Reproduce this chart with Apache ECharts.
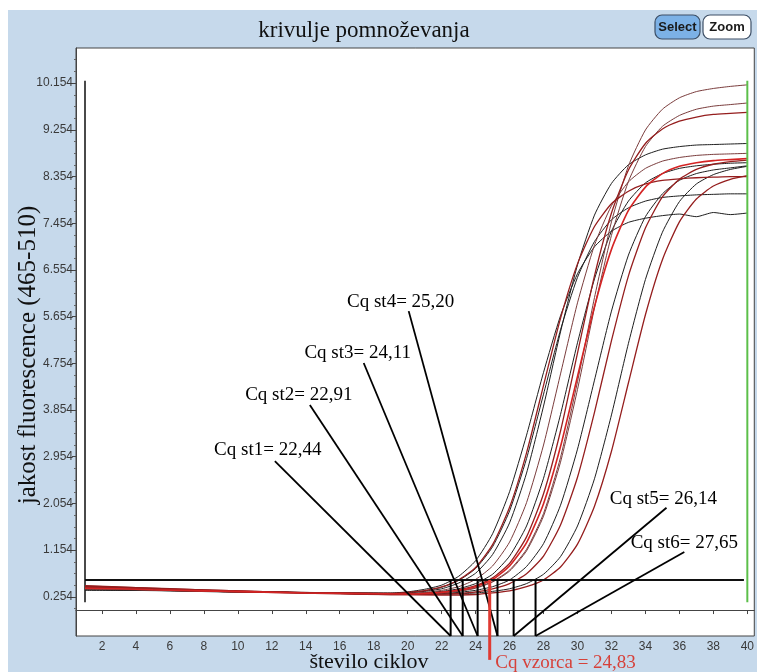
<!DOCTYPE html>
<html><head><meta charset="utf-8">
<script src="https://cdn.jsdelivr.net/npm/echarts@6/dist/echarts.min.js"></script>
<style>html,body{margin:0;padding:0;background:#fff;}#c{width:757px;height:672px;}</style>
</head><body><div id="c"></div>
<script>
// ---------- text ----------
const chartTitle = 'krivulje pomnoževanja';
const xTitle = 'število ciklov';
const yTitle = 'jakost fluorescence (465-510)';

// ---------- ticks ----------
const xTicks = [2,4,6,8,10,12,14,16,18,20,22,24,26,28,30,32,34,36,38,40];
const yTicks = [0.254,1.154,2.054,2.954,3.854,4.754,5.654,6.554,7.454,8.354,9.254,10.154];
const yMinorTicks = [0.029,0.479,0.704,0.929,1.379,1.604,1.829,2.279,2.504,2.729,3.179,3.404,3.629,
  4.079,4.304,4.529,4.979,5.204,5.429,5.879,6.104,6.329,6.779,7.004,7.229,7.679,7.904,8.129,
  8.579,8.804,9.029,9.479,9.704,9.929,10.379,10.604];

// ---------- data ----------
const threshold = 0.58;
const cursorStart = [1, 0.15];
const cursorEnd = [1, 10.2];
const endCycle = [40, 0.15];
const endCycleTop = [40, 10.2];
const thresholdFrom = 1;
const thresholdTo = 39.8;

const curve1 = [[1,0.40],[3,0.39],[5,0.38],[8,0.36],[11,0.35],[14,0.34],[17,0.33],[19,0.33],[20,0.35],[21,0.40],[22,0.48],[23,0.65],[24,0.95],[25,1.47],[26,2.28],[27,3.37],[28,4.58],[29,5.67],[30,6.48],[31,7.00],[32,7.30],[33,7.47],[34,7.55],[35,7.60],[36,7.63],[37,7.58],[38,7.66],[39,7.62],[40,7.65]];
const curve2 = [[1,0.46],[3,0.44],[6,0.41],[9,0.38],[12,0.35],[15,0.33],[18,0.32],[19,0.32],[20,0.34],[21,0.375],[22,0.445],[23,0.58],[24,0.82],[25,1.26],[26,1.98],[27,3.03],[28,4.33],[29,5.62],[30,6.67],[31,7.39],[32,7.83],[33,8.07],[34,8.21],[35,8.28],[36,8.31],[37,8.33],[38,8.34],[39,8.35],[40,8.35]];
const curve3 = [[1,0.39],[4,0.38],[7,0.37],[10,0.35],[13,0.34],[16,0.33],[19,0.32],[20,0.34],[21,0.37],[22,0.44],[23,0.57],[24,0.80],[25,1.22],[26,1.91],[27,2.92],[28,4.16],[29,5.40],[30,6.41],[31,7.10],[32,7.52],[33,7.75],[34,7.88],[35,7.95],[36,7.98],[37,8.00],[38,8.01],[39,8.02],[40,8.02]];
const curve4 = [[1,0.40],[4,0.39],[7,0.38],[10,0.36],[13,0.34],[16,0.32],[19,0.315],[20,0.33],[21,0.36],[22,0.41],[23,0.52],[24,0.71],[25,1.07],[26,1.68],[27,2.64],[28,3.93],[29,5.36],[30,6.65],[31,7.61],[32,8.22],[33,8.58],[34,8.77],[35,8.88],[36,8.93],[37,8.96],[38,8.97],[39,8.98],[40,8.99]];
const curve5 = [[1,0.43],[3,0.41],[6,0.39],[9,0.37],[12,0.35],[15,0.33],[18,0.32],[20,0.32],[21,0.34],[22,0.38],[23,0.45],[24,0.59],[25,0.85],[26,1.31],[27,2.07],[28,3.18],[29,4.55],[30,5.92],[31,7.03],[32,7.79],[33,8.25],[34,8.51],[35,8.65],[36,8.72],[37,8.76],[38,8.78],[39,8.79],[40,8.80]];
const curve6 = [[1,0.41],[4,0.39],[7,0.37],[10,0.35],[13,0.34],[16,0.32],[19,0.31],[20,0.315],[21,0.33],[22,0.36],[23,0.41],[24,0.51],[25,0.69],[26,1.04],[27,1.62],[28,2.54],[29,3.77],[30,5.15],[31,6.38],[32,7.30],[33,7.88],[34,8.23],[35,8.41],[36,8.51],[37,8.56],[38,8.59],[39,8.61],[40,8.62]];
const curve7 = [[1,0.42],[3,0.41],[5,0.39],[8,0.37],[11,0.35],[14,0.33],[17,0.32],[20,0.31],[21,0.32],[22,0.34],[23,0.38],[24,0.45],[25,0.59],[26,0.85],[27,1.30],[28,2.05],[29,3.15],[30,4.50],[31,5.85],[32,6.95],[33,7.70],[34,8.15],[35,8.41],[36,8.55],[37,8.62],[38,8.66],[39,8.68],[40,8.70]];
const curve8 = [[1,0.45],[4,0.42],[7,0.39],[10,0.36],[13,0.34],[16,0.32],[19,0.31],[20,0.31],[21,0.32],[22,0.345],[23,0.39],[24,0.47],[25,0.62],[26,0.90],[27,1.41],[28,2.24],[29,3.45],[30,4.95],[31,6.44],[32,7.65],[33,8.48],[34,8.99],[35,9.27],[36,9.42],[37,9.50],[38,9.55],[39,9.57],[40,9.59]];
const curve9 = [[1,0.41],[3,0.40],[6,0.38],[9,0.36],[12,0.34],[15,0.33],[18,0.32],[21,0.317],[22,0.334],[23,0.366],[24,0.43],[25,0.55],[26,0.77],[27,1.17],[28,1.86],[29,2.94],[30,4.40],[31,6.02],[32,7.48],[33,8.56],[34,9.25],[35,9.65],[36,9.87],[37,9.99],[38,10.05],[39,10.09],[40,10.12]];
const curve10 = [[1,0.40],[4,0.39],[7,0.37],[10,0.35],[13,0.34],[16,0.33],[19,0.32],[21,0.32],[22,0.33],[23,0.36],[24,0.42],[25,0.54],[26,0.75],[27,1.14],[28,1.81],[29,2.85],[30,4.25],[31,5.82],[32,7.22],[33,8.26],[34,8.93],[35,9.32],[36,9.53],[37,9.65],[38,9.71],[39,9.74],[40,9.77]];
const curve11 = [[1,0.38],[3,0.38],[6,0.37],[9,0.35],[12,0.34],[15,0.33],[18,0.32],[21,0.31],[22,0.32],[23,0.34],[24,0.38],[25,0.45],[26,0.58],[27,0.84],[28,1.28],[29,2.02],[30,3.10],[31,4.43],[32,5.76],[33,6.84],[34,7.58],[35,8.02],[36,8.28],[37,8.41],[38,8.48],[39,8.52],[40,8.56]];
const curve12 = [[1,0.44],[4,0.41],[7,0.38],[10,0.35],[13,0.33],[16,0.31],[19,0.30],[22,0.305],[23,0.32],[24,0.35],[25,0.41],[26,0.51],[27,0.70],[28,1.04],[29,1.64],[30,2.56],[31,3.81],[32,5.19],[33,6.44],[34,7.36],[35,7.96],[36,8.30],[37,8.49],[38,8.59],[39,8.64],[40,8.67]];
const curve13 = [[1,0.40],[3,0.39],[6,0.38],[9,0.36],[12,0.34],[15,0.33],[18,0.32],[21,0.31],[23,0.315],[24,0.33],[25,0.36],[26,0.41],[27,0.51],[28,0.69],[29,1.03],[30,1.62],[31,2.53],[32,3.76],[33,5.14],[34,6.37],[35,7.28],[36,7.87],[37,8.21],[38,8.39],[39,8.49],[40,8.55]];
const curve14 = [[1,0.47],[4,0.43],[7,0.40],[10,0.37],[13,0.34],[16,0.32],[19,0.30],[22,0.29],[24,0.30],[25,0.33],[26,0.37],[27,0.45],[28,0.58],[29,0.83],[30,1.27],[31,2.00],[32,3.06],[33,4.38],[34,5.69],[35,6.75],[36,7.48],[37,7.92],[38,8.17],[39,8.30],[40,8.37]];

const curves = [curve1,curve3,curve4,curve6,curve11,curve13,curve5,curve9,curve10,curve2,curve8,curve12,curve14,curve7];
const curveKinds = ['k','k','k','k','k','k','b','b','b','r','r','r','r','s'];

// standards Cq (labels) and sample
const cqLabels = ['Cq st1= 22,44','Cq st2= 22,91','Cq st3= 24,11','Cq st4= 25,20','Cq st5= 26,14','Cq st6= 27,65'];
const cqMarkX = [22.53, 23.24, 24.12, 25.29, 26.24, 27.53];
const sampleLabel = 'Cq vzorca = 24,83';
const sampleCq = 24.83;

// ---------- layout (annotation placement, data space) ----------
const X_MIN = 0.47, X_MAX = 40.41, Y_MIN = -0.50, Y_MAX = 10.83;
const cqLabelX = [11.76, 13.59, 17.06, 19.59, 35.06, 36.29];
const cqLabelY = [3.08, 4.14, 4.95, 5.93, 2.14, 1.29];
const cqLineStartX = [12.18, 14.24, 17.41, 20.06, 35.24, 36.29];
const cqLineStartY = [2.87, 3.95, 4.76, 5.76, 1.97, 1.12];
const sampleLineBottom = -0.96;
const sampleLabelPos = [29.3, -1.03];

// ---------- styles ----------
const kindColor = {k:'#1e1e1e', b:'#7a3c3c', r:'#951e1e', s:'#d42424'};
const kindWidth = {k:1, b:1, r:1.3, s:1.6};
const serif = '"Liberation Serif", "Times New Roman", serif';
const sans = '"Liberation Sans", Arial, sans-serif';

const chart = echarts.init(document.getElementById('c'), null, {renderer:'canvas'});

const series = [];
series.push({type:'line', data:[cursorStart, cursorEnd], showSymbol:false, silent:true,
  lineStyle:{color:'#4a4a4a', width:2}, z:2});
curves.forEach((d,i)=>{
  series.push({type:'line', data:d, showSymbol:false, silent:true, smooth:0.2,
    lineStyle:{color:kindColor[curveKinds[i]], width:kindWidth[curveKinds[i]]}, z:3});
});
series.push({type:'line', data:[endCycle, endCycleTop], showSymbol:false, silent:true,
  lineStyle:{color:'#5cbf4a', width:2}, z:4});
series.push({type:'line', data:[[thresholdFrom, threshold],[thresholdTo, threshold]], showSymbol:false, silent:true,
  lineStyle:{color:'#111', width:2}, z:5});
series.push({type:'custom', clip:false, silent:true, z:6,
  data: cqLabels.map((t,i)=>[cqMarkX[i], threshold]),
  renderItem: function(params, api){
    const i = params.dataIndex;
    const top = api.coord([cqMarkX[i], threshold]);
    const bot = api.coord([cqMarkX[i], Y_MIN]);
    const st = api.coord([cqLineStartX[i], cqLineStartY[i]]);
    const lab = api.coord([cqLabelX[i], cqLabelY[i]]);
    return {type:'group', children:[
      {type:'line', shape:{x1:top[0],y1:top[1],x2:bot[0],y2:bot[1]}, style:{stroke:'#000', lineWidth:2}},
      {type:'line', shape:{x1:st[0],y1:st[1],x2:bot[0],y2:bot[1]}, style:{stroke:'#000', lineWidth:1.8}},
      {type:'text', x:lab[0], y:lab[1], style:{text:cqLabels[i], font:'19px '+serif, fill:'#000', align:'center', verticalAlign:'middle'}}
    ]};
  }
});
series.push({type:'custom', clip:false, silent:true, z:7,
  data: [[sampleCq, threshold]],
  renderItem: function(params, api){
    const top = api.coord([sampleCq, threshold]);
    const bot = api.coord([sampleCq, sampleLineBottom]);
    const lab = api.coord(sampleLabelPos);
    return {type:'group', children:[
      {type:'line', shape:{x1:top[0],y1:top[1],x2:bot[0],y2:bot[1]}, style:{stroke:'#e03a32', lineWidth:3}},
      {type:'text', x:lab[0], y:lab[1], style:{text:sampleLabel, font:'19px '+serif, fill:'#d6413a', align:'center', verticalAlign:'middle'}}
    ]};
  }
});

const option = {
  animation:false,
  backgroundColor:'#c6d9eb',
  grid:{left:76, right:2, top:48, bottom:36, show:true, backgroundColor:'#fff', borderColor:'#444', borderWidth:1},
  xAxis:{type:'value', min:X_MIN, max:X_MAX,
    axisLine:{show:true, lineStyle:{color:'#444'}},
    axisTick:{show:true, customValues:xTicks, length:4, lineStyle:{color:'#444'}},
    axisLabel:{customValues:xTicks, color:'#3a3a3a', fontFamily:sans, fontSize:12, margin:5},
    splitLine:{show:false}},
  yAxis:[
    {type:'value', min:Y_MIN, max:Y_MAX,
    axisLine:{show:true, lineStyle:{color:'#444'}},
    axisTick:{show:true, customValues:yTicks, length:4, lineStyle:{color:'#444'}},
    axisLabel:{customValues:yTicks, color:'#3a3a3a', fontFamily:sans, fontSize:12, margin:3, formatter:v=>v.toFixed(3)},
    splitLine:{show:false}},
    {type:'value', min:Y_MIN, max:Y_MAX, position:'left',
    axisLine:{show:false},
    axisTick:{show:true, customValues:yMinorTicks, length:2, lineStyle:{color:'#666'}},
    axisLabel:{show:false}, splitLine:{show:false}}
  ],
  graphic:[
    {type:'rect', left:0, top:0, shape:{width:757, height:10}, style:{fill:'#fff'}, silent:true},
    {type:'rect', left:0, top:0, shape:{width:8, height:672}, style:{fill:'#fff'}, silent:true},
    {type:'text', x:364, y:31, style:{text:chartTitle, font:'23px '+serif, fill:'#111', textAlign:'center', textVerticalAlign:'middle'}},
    {type:'text', x:28, y:355, rotation:Math.PI/2, style:{text:yTitle, font:'25px '+serif, fill:'#111', textAlign:'center', textVerticalAlign:'middle'}},
    {type:'text', x:369, y:662, style:{text:xTitle, font:'22px '+serif, fill:'#111', textAlign:'center', textVerticalAlign:'middle'}},
    {type:'rect', x:655, y:15, shape:{width:45, height:24, r:7}, style:{fill:'#7cb1e6', stroke:'#3d4f66', lineWidth:1.2}},
    {type:'text', x:677.5, y:27, style:{text:'Select', font:'bold 13px '+sans, fill:'#1a1a1a', textAlign:'center', textVerticalAlign:'middle'}},
    {type:'rect', x:703, y:15, shape:{width:48, height:24, r:7}, style:{fill:'#fff', stroke:'#3d4f66', lineWidth:1.2}},
    {type:'text', x:727, y:27, style:{text:'Zoom', font:'bold 13px '+sans, fill:'#1a1a1a', textAlign:'center', textVerticalAlign:'middle'}}
  ],
  series: series
};
chart.setOption(option);
</script>
</body></html>
